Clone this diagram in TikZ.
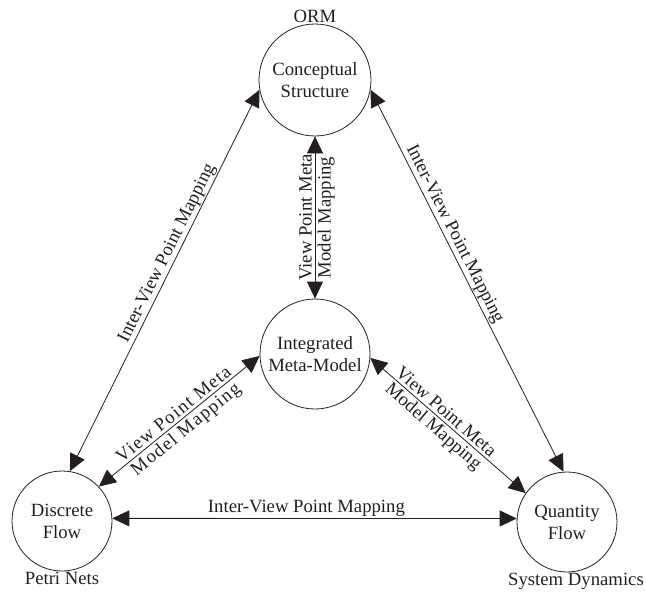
\documentclass[tikz,border=0pt]{standalone}
\usepackage{fontspec}
\setmainfont{Liberation Serif}
\usepackage{tikz}
\usetikzlibrary{calc}
\usetikzlibrary{positioning}
\usetikzlibrary{arrows.meta}
\definecolor{ink}{HTML}{231F20}
\tikzstyle{view} = [circle, draw=ink, text=ink, align=center, inner sep=0pt,
    minimum size=100pt, line width=0.8pt]
\tikzstyle{tag} = [text=ink, inner sep=1pt]
\tikzstyle{inter} = [text=ink, inner sep=1pt, sloped, above]
\tikzstyle{map} = [text=ink, align=center, inner sep=0pt, sloped, text depth=0pt,
    font=\fontsize{18.7}{19}\selectfont]
\tikzstyle{line} = [draw=ink, line width=0.8pt, >={Triangle[length=17pt,width=16pt]}, <->]

\begin{document}
\begin{tikzpicture}[x=1pt, y=-1pt, font=\fontsize{18.7}{22}\selectfont]
    \useasboundingbox (0,0) rectangle (646,592);
    % Place nodes
    \node [view, minimum size=112pt] (cs) at (315,80) {Conceptual\\Structure};
    \node [view, minimum size=110pt] (imm) at (315,354) {Integrated\\Meta-Model};
    \node [view] (df) at (62,521) {Discrete\\Flow};
    \node [view] (qf) at (567,522) {Quantity\\Flow};
    \node [tag, above=0pt of cs] (orm) {ORM};
    \node [tag, below=0pt of df] (pn) {Petri Nets};
    \node [tag, below=0pt of qf, xshift=9pt] (sd) {System Dynamics};
    % Draw edges
    \path [line] (cs.190) -- node [inter, pos=0.44] {Inter-View Point Mapping} (df.81);
    \path [line] (cs.350) -- node [inter, pos=0.39] {Inter-View Point Mapping} (qf.94);
    \path [line] (df.3) -- node [inter, sloped=false, pos=0.48] {Inter-View Point Mapping} (qf.176);
    \path [line] (imm.north) -- node [map] {View Point Meta\\Model Mapping} (cs.south);
    \path [line] (df.43) -- node [map, font=\fontsize{18.7}{19}\selectfont\addfontfeature{LetterSpace=7}]
        {View Point Meta\\Model Mapping} (imm.182);
    \path [line] (imm.-4) -- node [map, pos=0.45] {View Point Meta\\Model Mapping} (qf.145);
\end{tikzpicture}
\end{document}
